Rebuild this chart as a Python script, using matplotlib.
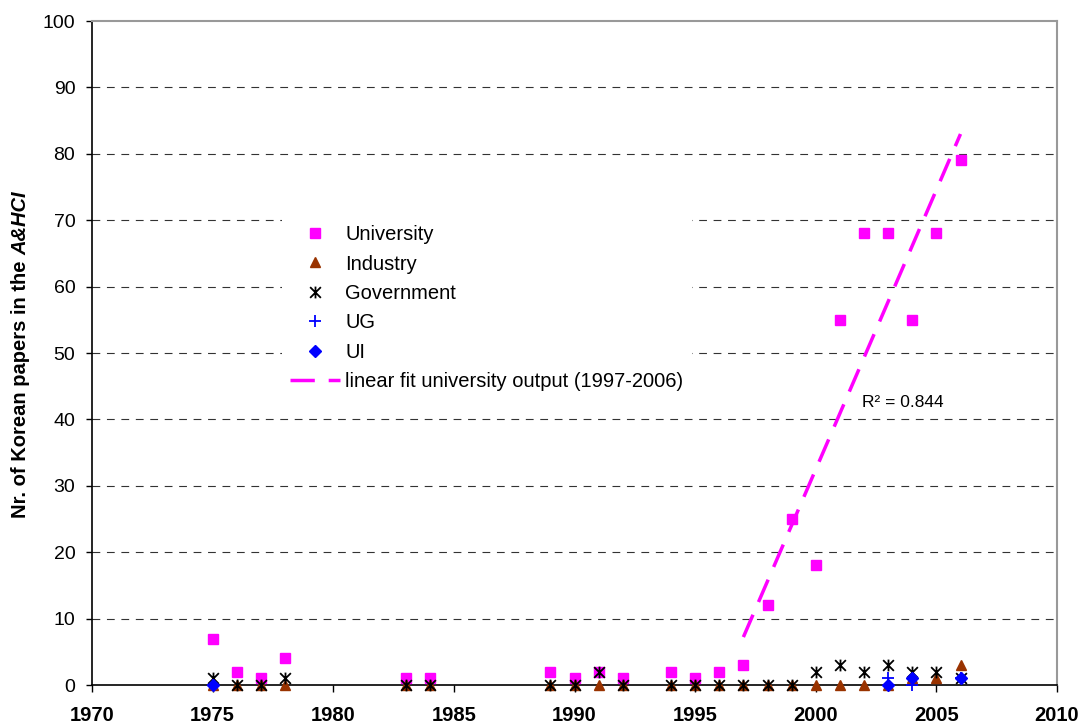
import numpy as np
import matplotlib
matplotlib.use("Agg")
import matplotlib.pyplot as plt
from matplotlib.path import Path

plt.rcParams['font.family'] = ['Liberation Sans', 'DejaVu Sans']

# years with any paper
years = [1975, 1976, 1977, 1978, 1983, 1984, 1989, 1990, 1991, 1992,
         1994, 1995, 1996, 1997, 1998, 1999, 2000, 2001, 2002, 2003,
         2004, 2005, 2006]
university = [7, 2, 1, 4, 1, 1, 2, 1, 2, 1,
              2, 1, 2, 3, 12, 25, 18, 55, 68, 68,
              55, 68, 79]
industry = [0, 0, 0, 0, 0, 0, 0, 0, 0, 0,
            0, 0, 0, 0, 0, 0, 0, 0, 0, 0,
            1, 1, 3]
government = [1, 0, 0, 1, 0, 0, 0, 0, 2, 0,
              0, 0, 0, 0, 0, 0, 2, 3, 2, 3,
              2, 2, 1]
nan = np.nan
ug = [0, nan, nan, nan, nan, nan, nan, nan, nan, nan,
      nan, nan, nan, nan, nan, nan, nan, nan, nan, 1,
      0, nan, 1]
ui = [0, nan, nan, nan, nan, nan, nan, nan, nan, nan,
      nan, nan, nan, nan, nan, nan, nan, nan, nan, 0,
      1, nan, 1]

fit_start, fit_end = 1997, 2006

yrs = np.array(years, dtype=float)
uni = np.array(university, dtype=float)
sel = (yrs >= fit_start) & (yrs <= fit_end)
slope, icpt = np.polyfit(yrs[sel], uni[sel], 1)
pred = slope * yrs[sel] + icpt
r2 = 1 - np.sum((uni[sel] - pred) ** 2) / np.sum((uni[sel] - uni[sel].mean()) ** 2)

# asterisk like excel: x plus vertical bar
star = Path([(-1, -1), (1, 1), (-1, 1), (1, -1), (0, -1.1), (0, 1.1)],
            [Path.MOVETO, Path.LINETO, Path.MOVETO, Path.LINETO, Path.MOVETO, Path.LINETO])

W, H = 1084, 726
fig = plt.figure(figsize=(W / 100, H / 100), dpi=100)
ax = fig.add_axes([92 / W, 1 - 685 / H, (1057 - 92) / W, (685 - 21) / H])

kw = dict(ls='none', zorder=3, clip_on=False)
ax.plot(years, university, marker='s', color='#FF00FF', ms=6.5, mec='#FF00FF', label='University', **kw)
ax.plot(years, industry, marker='^', color='#993300', ms=7.5, mec='#993300', label='Industry', **kw)
ax.plot(years, government, marker=star, color='black', ms=8.5, mew=1.3, label='Government', **kw)
ax.plot(years, ug, marker='+', color='#0000FF', ms=9, mew=1.3, label='UG', **kw)
ax.plot(years, ui, marker='D', color='#0000FF', ms=6, mec='#0000FF', label='UI', **kw)

fx = np.array([fit_start, fit_end], dtype=float)
ax.plot(fx, slope * fx + icpt, color='#FF00FF', lw=2.5, dashes=(7, 4),
        label='linear fit university output (1997-2006)', zorder=4)

ax.text(2001.9, 42.6, 'R\u00b2 = %.3f' % r2, fontsize=12.5, va='center', ha='left')

ax.set_xlim(1970, 2010)
ax.set_ylim(0, 100)
ax.set_xticks(range(1970, 2011, 5))
ax.set_yticks(range(0, 101, 10))
for lab in ax.get_xticklabels():
    lab.set_fontweight('bold')
ax.tick_params(axis='x', labelsize=14.5, direction='out', length=5, width=1, pad=10)
ax.tick_params(axis='y', labelsize=14, direction='out', length=4.5, width=1, pad=7.5)

for y in range(10, 100, 10):
    ax.axhline(y, color='#333333', lw=0.8, dashes=(7, 6), zorder=1)

ax.spines['left'].set_color('black')
ax.spines['bottom'].set_color('black')
ax.spines['left'].set_linewidth(1.2)
ax.spines['bottom'].set_linewidth(1.2)
ax.spines['top'].set_color('#999999')
ax.spines['right'].set_color('#999999')
ax.spines['top'].set_linewidth(1.5)
ax.spines['right'].set_linewidth(1.5)

# y label in two pieces: plain bold + bold italic
lab_x = 26 / W
t1 = fig.text(lab_x, 0.5, 'Nr. of Korean papers in the ', rotation=90, rotation_mode='anchor',
              ha='left', va='baseline', fontsize=14.5, fontweight='bold')
t2 = fig.text(lab_x, 0.5, 'A&HCI', rotation=90, rotation_mode='anchor',
              ha='left', va='baseline', fontsize=14.5, fontweight='bold', fontstyle='italic')
fig.canvas.draw()
r = fig.canvas.get_renderer()
h1 = t1.get_window_extent(r).height
h2 = t2.get_window_extent(r).height
yc = H - 355
y0 = yc - (h1 + h2) / 2
t1.set_y(y0 / H)
t2.set_y((y0 + h1) / H)

leg = ax.legend(loc='upper left', bbox_to_anchor=(282 / W, 1 - 217 / H),
                bbox_transform=fig.transFigure, fontsize=14.5,
                frameon=True, facecolor='white', edgecolor='none', framealpha=1,
                handlelength=2.5, handletextpad=0.25, labelspacing=0.52,
                borderpad=0.4, borderaxespad=0, fancybox=False)
leg.set_zorder(2)

fig.savefig('out.png', dpi=100)
